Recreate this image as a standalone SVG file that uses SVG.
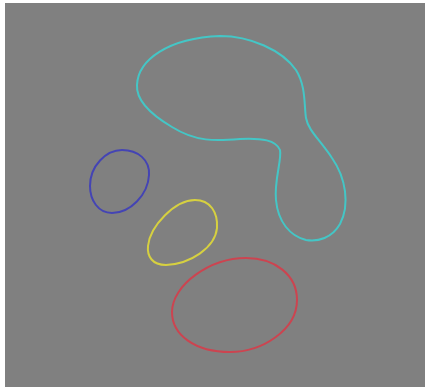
<svg xmlns="http://www.w3.org/2000/svg" width="426" height="389" viewBox="0 0 426 389">
<style>
.c{fill:none;stroke-width:2;stroke-linejoin:round}
</style>
<rect x="0" y="0" width="426" height="389" fill="#ffffff"/>
<rect x="5" y="3" width="420" height="384" fill="#808080"/>
<g id="cyan"><path class="c" stroke="#44c6c6" d="M 220,36 C 250,36 282,50 296,70 C 306,86 304,105 306,118 C 308,130 320,140 332,158 C 346,178 350,205 340,224 C 332,238 318,242 306,240 C 290,236 278,222 276,200 C 274,180 282,160 280,150 C 276,140 262,138 240,139 C 215,141 196,142 172,127 C 150,114 136,100 137,85 C 138,60 168,38 220,36 Z"/></g>
<g id="blue"><path class="c" stroke="#4444b4" d="M 122,150 C 138,150 150,160 149,175 C 148,195 130,213 112,213 C 98,213 90,200 90,186 C 90,166 106,150 122,150 Z"/></g>
<g id="yellow"><path class="c" stroke="#d6d040" d="M 195,200 C 210,200 218,212 217,228 C 215,248 190,264 166,265 C 152,265 147,256 148,246 C 150,226 175,200 195,200 Z"/></g>
<g id="red"><path class="c" stroke="#cc4450" d="M 246,258 C 275,258 297,275 297,300 C 297,330 262,352 230,352 C 195,352 172,335 172,312 C 172,285 210,258 246,258 Z"/></g>
</svg>
